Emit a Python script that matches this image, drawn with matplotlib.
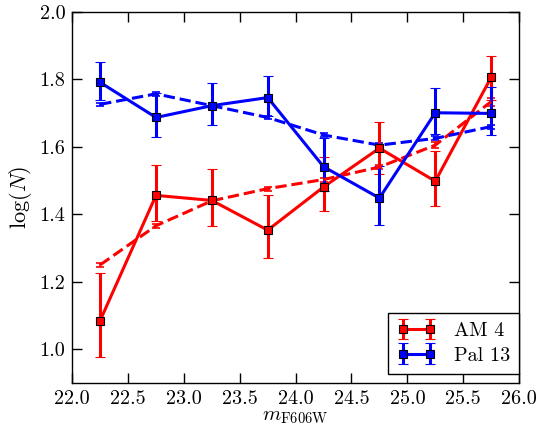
"""Luminance function comparison: AM 4 vs Pal 13."""

import matplotlib
matplotlib.use("Agg")
import matplotlib.pyplot as plt

plt.rcParams["font.family"] = "serif"
plt.rcParams["font.serif"] = ["cmr10", "DejaVu Serif"]
plt.rcParams["mathtext.fontset"] = "cm"
plt.rcParams["axes.formatter.use_mathtext"] = True

mag = [22.25, 22.75, 23.25, 23.75, 24.25, 24.75, 25.25, 25.75]

am4_logn = [1.085, 1.456, 1.441, 1.353, 1.481, 1.596, 1.498, 1.806]
am4_err_lo = [0.107, 0.075, 0.076, 0.083, 0.071, 0.076, 0.072, 0.066]
am4_err_hi = [0.141, 0.091, 0.092, 0.104, 0.089, 0.077, 0.089, 0.064]

pal13_logn = [1.791, 1.687, 1.722, 1.746, 1.541, 1.448, 1.701, 1.699]
pal13_err_lo = [0.052, 0.058, 0.056, 0.056, 0.071, 0.079, 0.062, 0.064]
pal13_err_hi = [0.061, 0.072, 0.066, 0.065, 0.085, 0.095, 0.072, 0.077]

am4_model = [1.250, 1.366, 1.440, 1.476, 1.503, 1.540, 1.605, 1.734]
am4_model_err = [0.006, 0.006, 0.006, 0.006, 0.006, 0.006, 0.008, 0.012]

pal13_model = [1.726, 1.757, 1.722, 1.687, 1.635, 1.605, 1.625, 1.660]
pal13_model_err = [0.005, 0.005, 0.005, 0.005, 0.005, 0.005, 0.006, 0.006]


fig = plt.figure(figsize=(5.39, 4.25), dpi=100)
ax = fig.add_axes([0.134, 0.099, 0.829, 0.873])

ax.errorbar(mag, am4_model, yerr=am4_model_err, color="red", ls="--", lw=2.2,
            capsize=3, capthick=1.2, elinewidth=1.2)
ax.errorbar(mag, pal13_model, yerr=pal13_model_err, color="blue", ls="--", lw=2.2,
            capsize=3, capthick=1.2, elinewidth=1.2)
ax.errorbar(mag, am4_logn, yerr=[am4_err_lo, am4_err_hi], color="red", lw=2.2,
            marker="s", ms=5.5, mfc="red", mec="black", mew=0.8,
            capsize=3.5, capthick=1.8, label="AM 4")
ax.errorbar(mag, pal13_logn, yerr=[pal13_err_lo, pal13_err_hi], color="blue", lw=2.2,
            marker="s", ms=5.5, mfc="blue", mec="black", mew=0.8,
            capsize=3.5, capthick=1.8, label="Pal 13")

ax.set_xlim(22.0, 26.0)
ax.set_ylim(0.9, 2.0)
ax.set_xticks([22.0, 22.5, 23.0, 23.5, 24.0, 24.5, 25.0, 25.5, 26.0])
ax.set_yticks([1.0, 1.2, 1.4, 1.6, 1.8, 2.0])
ax.xaxis.set_major_formatter(matplotlib.ticker.FormatStrFormatter("%.1f"))
ax.yaxis.set_major_formatter(matplotlib.ticker.FormatStrFormatter("%.1f"))
ax.tick_params(direction="in", length=7, width=1, top=True, right=True,
               labelsize=14.5, pad=5)
for spine in ax.spines.values():
    spine.set_linewidth(1)

ax.set_xlabel(r"$m_{\rm F606W}$", fontsize=15, labelpad=0)
ax.set_ylabel(r"$\log(N)$", fontsize=16, labelpad=4)

leg = ax.legend(loc="lower right", bbox_to_anchor=(1.0, 0.025), numpoints=2,
                fancybox=False, fontsize=14.5, edgecolor="black", framealpha=1,
                borderaxespad=0, handlelength=1.9, handletextpad=0.9,
                borderpad=0.45, labelspacing=0.3)
leg.get_frame().set_linewidth(1)

fig.savefig("out.png", dpi=100)
